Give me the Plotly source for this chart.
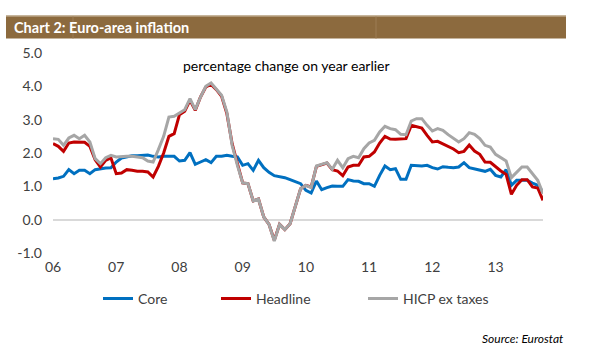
import plotly.graph_objects as go

# ---------------- data (monthly, Jan 2006 - Oct 2013) ----------------
year_ticks = [0, 12, 24, 36, 48, 60, 72, 84]
year_labels = ["06", "07", "08", "09", "10", "11", "12", "13"]
y_ticks = [-1, 0, 1, 2, 3, 4, 5]
y_labels = ["-1.0", "0.0", "1.0", "2.0", "3.0", "4.0", "5.0"]

core = [1.23, 1.25, 1.30, 1.50, 1.38, 1.48, 1.48, 1.38, 1.50, 1.53, 1.55, 1.56,
        1.73, 1.85, 1.88, 1.92, 1.92, 1.92, 1.94, 1.90, 1.88, 1.90, 1.90, 1.90,
        1.76, 1.78, 2.01, 1.66, 1.73, 1.80, 1.71, 1.90, 1.90, 1.93, 1.90, 1.88,
        1.63, 1.68, 1.48, 1.78, 1.56, 1.42, 1.32, 1.30, 1.26, 1.20, 1.15, 1.08,
        0.88, 0.80, 1.16, 0.90, 0.96, 1.01, 1.00, 1.00, 1.20, 1.16, 1.15, 1.08,
        1.08, 1.00, 1.33, 1.61, 1.50, 1.53, 1.21, 1.21, 1.63, 1.61, 1.61, 1.63,
        1.56, 1.52, 1.59, 1.57, 1.56, 1.58, 1.71, 1.56, 1.53, 1.50, 1.45, 1.51,
        1.33, 1.28, 1.50, 1.03, 1.18, 1.18, 1.18, 1.10, 1.03, 0.83]

headline = [2.28, 2.20, 2.05, 2.30, 2.33, 2.32, 2.32, 2.20, 1.80, 1.58, 1.78, 1.85,
            1.38, 1.40, 1.50, 1.48, 1.45, 1.45, 1.43, 1.28, 1.60, 2.00, 2.50, 2.58,
            3.15, 3.25, 3.58, 3.28, 3.68, 3.98, 4.06, 3.90, 3.70, 3.18, 2.28, 1.68,
            1.10, 1.08, 0.56, 0.62, 0.08, -0.14, -0.62, -0.14, -0.30, -0.12, 0.43, 0.93,
            1.03, 0.98, 1.60, 1.65, 1.70, 1.50, 1.46, 1.32, 1.58, 1.63, 1.63, 1.88,
            1.90, 2.03, 2.30, 2.50, 2.42, 2.41, 2.41, 2.43, 2.83, 2.78, 2.75, 2.53,
            2.33, 2.35, 2.28, 2.21, 2.12, 2.01, 2.05, 2.24, 2.06, 1.96, 1.73, 1.72,
            1.58, 1.46, 1.36, 0.76, 1.03, 1.20, 1.20, 0.98, 0.95, 0.58]

hicp_ex_taxes = [2.43, 2.41, 2.23, 2.45, 2.53, 2.43, 2.53, 2.33, 1.83, 1.68, 1.86, 1.93,
                 1.88, 1.90, 1.90, 1.90, 1.88, 1.86, 1.76, 1.73, 2.10, 2.50, 3.08, 3.10,
                 3.20, 3.30, 3.63, 3.30, 3.68, 4.00, 4.10, 3.93, 3.73, 3.23, 2.23, 1.63,
                 1.10, 1.08, 0.56, 0.62, 0.08, -0.14, -0.64, -0.14, -0.30, -0.12, 0.43, 0.93,
                 1.03, 0.96, 1.61, 1.66, 1.71, 1.51, 1.78, 1.56, 1.83, 1.90, 1.86, 2.13,
                 2.30, 2.38, 2.63, 2.80, 2.73, 2.70, 2.56, 2.55, 2.96, 3.03, 3.03, 2.83,
                 2.66, 2.73, 2.68, 2.55, 2.43, 2.33, 2.43, 2.61, 2.56, 2.43, 2.23, 2.18,
                 1.96, 1.86, 1.76, 1.26, 1.43, 1.58, 1.58, 1.38, 1.18, 0.78]

months = list(range(len(core)))

# ---------------- layout geometry (pixels) ----------------
W, H = 606, 355
L, R, T, B = 53, 543, 52.5, 253


def px(xp):
    return (xp - L) / (R - L)


def py(yp):
    return (B - yp) / (B - T)


series = [("Core", core, "#0070C0"),
          ("Headline", headline, "#C00000"),
          ("HICP ex taxes", hicp_ex_taxes, "#A6A6A6")]

fig = go.Figure()
legend_names = ["legend", "legend2", "legend3"]
for (name, vals, col), lg in zip(series, legend_names):
    fig.add_trace(go.Scatter(x=months, y=vals, mode="lines", name=name,
                             line=dict(color=col, width=3), legend=lg))

legend_x = [103, 221, 368]
font_fam = "Lato, Open Sans, sans-serif"
leg_common = dict(orientation="h", yanchor="middle", xanchor="left",
                  bgcolor="rgba(0,0,0,0)", borderwidth=0,
                  font=dict(family=font_fam, size=14, color="#404040"),
                  itemwidth=30)

layout_legends = {}
for lg, lx in zip(legend_names, legend_x):
    layout_legends[lg] = dict(leg_common, x=px(lx - 5), y=py(299))

fig.update_layout(
    width=W, height=H,
    margin=dict(l=L, r=W - R, t=T, b=H - B, pad=0, autoexpand=False),
    paper_bgcolor="white", plot_bgcolor="white",
    showlegend=True,
    **layout_legends,
    xaxis=dict(range=[0, 93], tickmode="array", tickvals=year_ticks,
               ticktext=year_labels, showgrid=False, zeroline=False,
               showline=False, ticks="", ticklabelstandoff=4,
               tickfont=dict(family=font_fam, size=14, color="#404040"),
               fixedrange=True),
    yaxis=dict(range=[-1, 5], tickmode="array", tickvals=y_ticks,
               ticktext=y_labels, showgrid=False, zeroline=True,
               zerolinecolor="#D9D9D9", zerolinewidth=1.5,
               showline=False, ticks="", ticklabelstandoff=10,
               tickfont=dict(family=font_fam, size=14, color="#404040"),
               fixedrange=True),
)

# title bar
bar_col = "#8C6A3E"
fig.add_shape(type="rect", xref="paper", yref="paper",
              x0=px(6), x1=px(566), y0=py(38), y1=py(15),
              fillcolor=bar_col, line=dict(width=0), layer="below")
fig.add_shape(type="line", xref="paper", yref="paper",
              x0=px(6), x1=px(566), y0=py(15.5), y1=py(15.5),
              line=dict(color="#C9B79C", width=1))
for sx in [73, 376]:
    fig.add_shape(type="line", xref="paper", yref="paper",
                  x0=px(sx), x1=px(sx), y0=py(38), y1=py(16),
                  line=dict(color="#9C7D55", width=1))

fig.add_annotation(text="<b>Chart 2: Euro-area inflation</b>", xref="paper", yref="paper",
                   x=px(12), y=py(27), xanchor="left", yanchor="middle", showarrow=False,
                   font=dict(family=font_fam, size=14.5, color="white"))
fig.add_annotation(text="percentage change on year earlier", xref="paper", yref="paper",
                   x=px(286), y=py(65), xanchor="center", yanchor="middle", showarrow=False,
                   font=dict(family=font_fam, size=14, color="#000000"))
fig.add_annotation(text="<i>Source: Eurostat</i>", xref="paper", yref="paper",
                   x=px(566), y=py(339), xanchor="right", yanchor="middle", showarrow=False,
                   font=dict(family=font_fam, size=12, color="#000000"))

fig.write_html("out.html", config={"displayModeBar": False},
               post_script="document.body.style.margin='0';document.body.style.padding='0';")
